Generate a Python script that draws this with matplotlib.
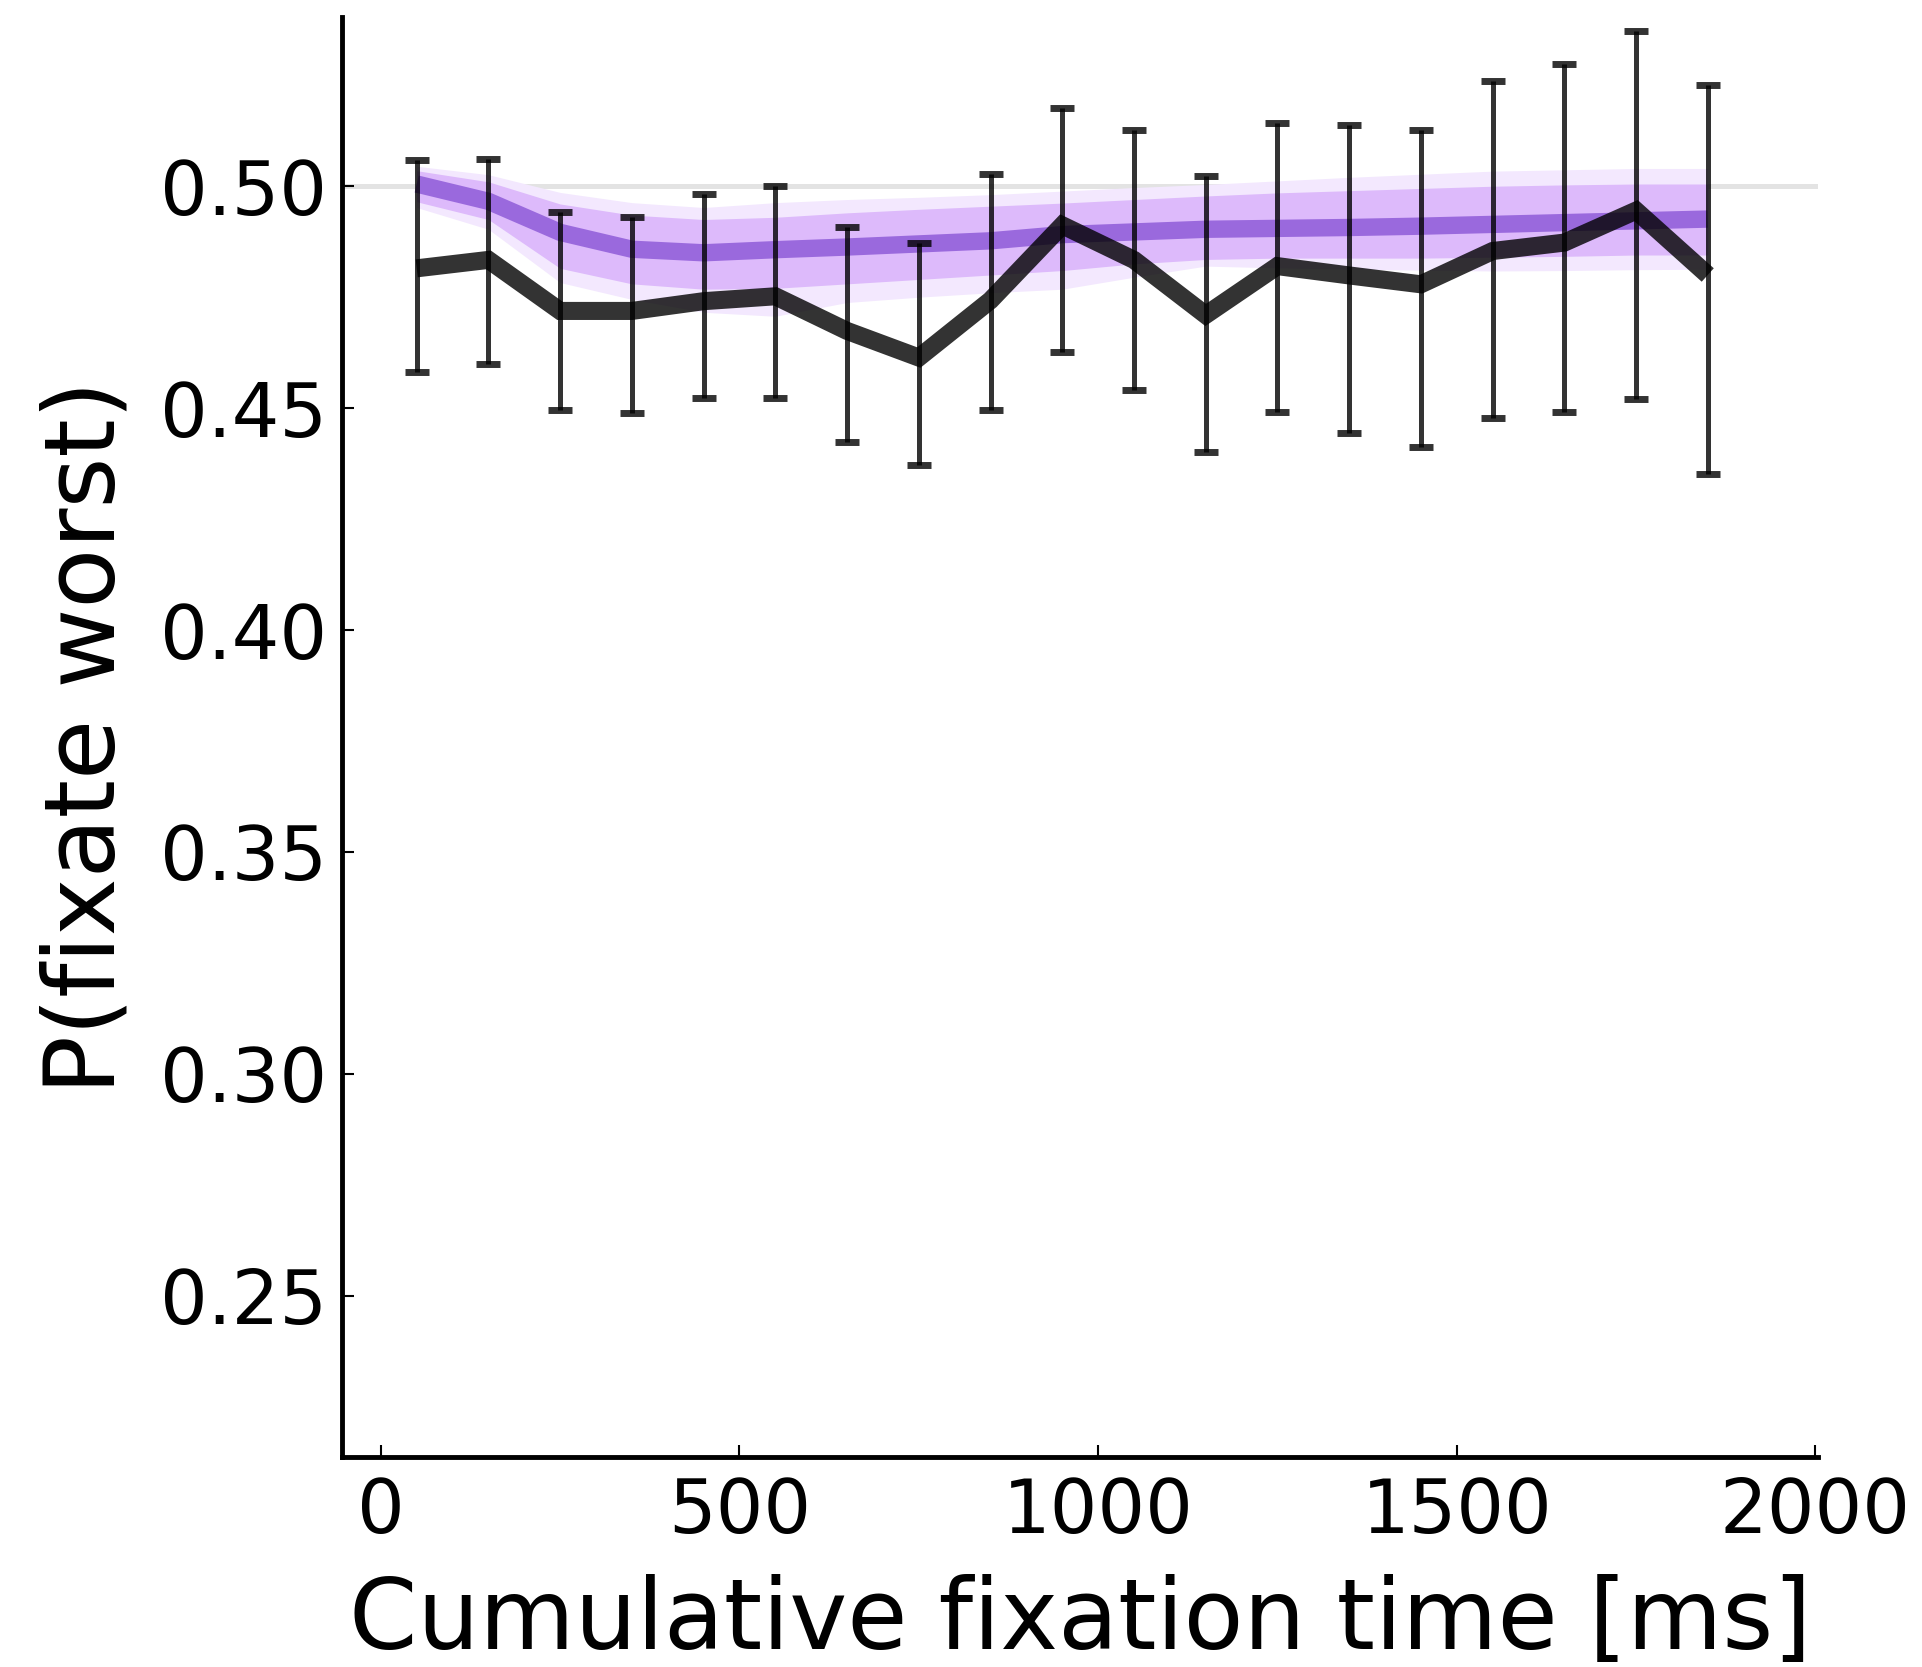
import matplotlib.pyplot as plt

# Datos
tiempo = [50, 150, 250, 350, 450, 550, 650, 750, 850, 950,
          1050, 1150, 1250, 1350, 1450, 1550, 1650, 1750, 1850]

p_peor = [0.4815, 0.4834, 0.4719, 0.4719, 0.4741, 0.4752, 0.4674, 0.4614, 0.4743, 0.4912,
          0.4834, 0.4710, 0.4820, 0.4799, 0.4779, 0.4854, 0.4873, 0.4945, 0.4800]
p_peor_sup = [0.5058, 0.5061, 0.4942, 0.4931, 0.4983, 0.5000, 0.4909, 0.4873, 0.5028, 0.5177,
              0.5127, 0.5022, 0.5143, 0.5138, 0.5127, 0.5237, 0.5276, 0.5350, 0.5229]
p_peor_inf = [0.4581, 0.4600, 0.4495, 0.4490, 0.4523, 0.4523, 0.4423, 0.4371, 0.4495, 0.4627,
              0.4542, 0.4401, 0.4492, 0.4445, 0.4412, 0.4478, 0.4492, 0.4520, 0.4352]

modelo_media = [0.5005, 0.4966, 0.4896, 0.4858, 0.4850, 0.4857, 0.4863, 0.4870, 0.4877, 0.4891,
                0.4897, 0.4903, 0.4905, 0.4907, 0.4910, 0.4914, 0.4918, 0.4922, 0.4926]
modelo_ext_sup = [0.5045, 0.5026, 0.4986, 0.4963, 0.4952, 0.4963, 0.4970, 0.4975, 0.4981, 0.4989,
                  0.4997, 0.5004, 0.5012, 0.5020, 0.5027, 0.5034, 0.5037, 0.5040, 0.5040]
modelo_ext_inf = [0.4952, 0.4903, 0.4783, 0.4745, 0.4716, 0.4707, 0.4738, 0.4750, 0.4760, 0.4768,
                  0.4795, 0.4820, 0.4816, 0.4813, 0.4811, 0.4809, 0.4810, 0.4812, 0.4813]
modelo_int_sup = [0.5035, 0.5010, 0.4960, 0.4935, 0.4925, 0.4930, 0.4940, 0.4948, 0.4955, 0.4962,
                  0.4970, 0.4978, 0.4985, 0.4990, 0.4995, 0.5000, 0.5003, 0.5005, 0.5005]
modelo_int_inf = [0.4965, 0.4925, 0.4815, 0.4780, 0.4768, 0.4770, 0.4780, 0.4790, 0.4800, 0.4810,
                  0.4825, 0.4835, 0.4838, 0.4838, 0.4838, 0.4840, 0.4842, 0.4845, 0.4845]

ticks_y = [0.25, 0.30, 0.35, 0.40, 0.45, 0.50]
ticks_x = [0, 500, 1000, 1500, 2000]

fig = plt.figure(figsize=(19.22, 16.67), dpi=100)
ax = fig.add_axes([0.178, 0.126, 0.768, 0.864])

# Linea de referencia en 0.5
ax.axhline(0.5, color="#e3e3e3", lw=3.6, zorder=1)

# Banda del modelo (simulaciones)
ax.fill_between(tiempo, modelo_ext_inf, modelo_ext_sup, color="#f3e8fe", lw=0, zorder=2)
ax.fill_between(tiempo, modelo_int_inf, modelo_int_sup, color="#ddbafb", lw=0, zorder=3)
ax.plot(tiempo, modelo_media, color="#9a69dd", lw=12.5, solid_capstyle="butt", zorder=4)

# Datos con barras de error
ax.plot(tiempo, p_peor, color="black", alpha=0.8, lw=13,
        solid_capstyle="butt", solid_joinstyle="miter", zorder=5)
err_inf = [m - l for m, l in zip(p_peor, p_peor_inf)]
err_sup = [u - m for m, u in zip(p_peor, p_peor_sup)]
ax.errorbar(tiempo, p_peor, yerr=[err_inf, err_sup], fmt="none", ecolor="black",
            alpha=0.8, elinewidth=3.6, capsize=8.5, capthick=5, zorder=6)

ax.set_xlim(-54, 2004)
ax.set_ylim(0.2137, 0.5382)
ax.set_xticks(ticks_x)
ax.set_yticks(ticks_y)
ax.set_yticklabels([f"{t:.2f}" for t in ticks_y])

for lado in ["top", "right"]:
    ax.spines[lado].set_visible(False)
for lado in ["left", "bottom"]:
    ax.spines[lado].set_linewidth(3.5)

ax.tick_params(direction="in", length=8.6, width=1.5, labelsize=54)
ax.tick_params(axis="y", pad=11)
ax.tick_params(axis="x", pad=14)
ax.set_xlabel("Cumulative fixation time [ms]", fontsize=70.5, labelpad=18)
ax.set_ylabel("P(fixate worst)", fontsize=70.5, labelpad=18)

plt.savefig("out.png", dpi=100)
